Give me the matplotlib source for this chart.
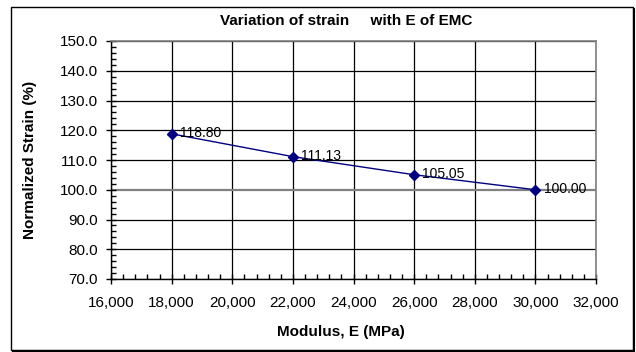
import numpy as np
import matplotlib
matplotlib.use("Agg")
import matplotlib.pyplot as plt
from matplotlib.ticker import MultipleLocator, FuncFormatter
from matplotlib.patches import Rectangle

plt.rcParams['font.family'] = ['Liberation Sans', 'DejaVu Sans']

# data
modulus = [18000, 22000, 26000, 30000]
strain = [118.80, 111.13, 105.05, 100.00]
title = "Variation of strain     with E of EMC"
xlabel = "Modulus, E (MPa)"
ylabel = "Normalized Strain (%)"

fig = plt.figure(figsize=(6.36, 3.52), dpi=100)
ax = fig.add_axes([111/636, 1-279/352, (596-111)/636, (279-41)/352])

ax.plot(modulus, strain, color='#000080', lw=1.0, marker='D', ms=5,
        mfc='#000080', mec='#000080', zorder=3)
for x, y in zip(modulus, strain):
    ax.annotate('%.2f' % y, (x, y), xytext=(6, 0.5), textcoords='offset points',
                ha='left', va='center', fontsize=10, color='black')

ax.set_xlim(16000, 32000)
ax.set_ylim(70, 150)
ax.xaxis.set_major_locator(MultipleLocator(2000))
ax.xaxis.set_minor_locator(MultipleLocator(400))
ax.yaxis.set_major_locator(MultipleLocator(10))
ax.yaxis.set_minor_locator(MultipleLocator(2))
ax.xaxis.set_major_formatter(FuncFormatter(lambda v, p: '{:,.0f}'.format(v)))
ax.yaxis.set_major_formatter(FuncFormatter(lambda v, p: '%.1f' % v))

ax.tick_params(which='major', direction='inout', length=7, width=1,
               labelsize=11, color='black', pad=6)
ax.tick_params(axis='x', which='major', pad=9)
ax.tick_params(which='minor', direction='in', length=3.5, width=1, color='black')

ax.grid(True, which='major', color='black', lw=0.9)
for gl, v in zip(ax.get_ygridlines(), ax.get_yticks()):
    if abs(v - 100) < 1e-6:
        gl.set_color('#808080')
        gl.set_linewidth(1.6)

for s in ['top', 'right']:
    ax.spines[s].set_color('#808080')
    ax.spines[s].set_linewidth(1.2)
for s in ['left', 'bottom']:
    ax.spines[s].set_color('black')
    ax.spines[s].set_linewidth(1.0)

fig.text(346/636, 1-21/352, title, ha='center', va='center',
         fontsize=11, fontweight='bold')
fig.text(341/636, 1-332/352, xlabel, ha='center', va='center',
         fontsize=11, fontweight='bold')
fig.text(30/636, 1-160/352, ylabel, ha='center', va='center',
         rotation=90, fontsize=11, fontweight='bold')

# outer chart frame with shadow
fig.patches.append(Rectangle((11/636, 1-350/352), (633-11)/636, (350-7)/352,
                             transform=fig.transFigure, fill=False,
                             edgecolor='black', lw=1.0))
fig.add_artist(plt.Line2D([634/636, 634/636], [1-351/352, 1-9/352],
                          transform=fig.transFigure, color='black', lw=1.5))
fig.add_artist(plt.Line2D([13/636, 634/636], [1-351/352, 1-351/352],
                          transform=fig.transFigure, color='black', lw=1.5))

fig.savefig('out.png', dpi=100)
